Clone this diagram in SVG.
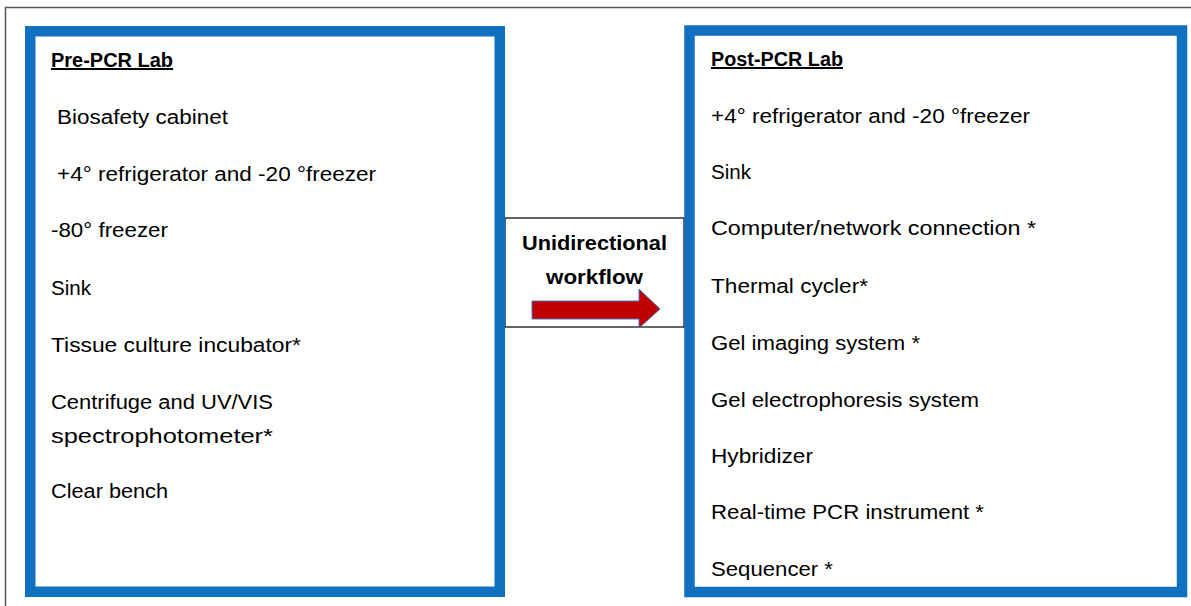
<svg xmlns="http://www.w3.org/2000/svg" width="1191" height="606" viewBox="0 0 1191 606">
<style>
.frame{fill:none;stroke:#555;stroke-width:1.5}
.lab{fill:#fff;stroke:#1170BF;stroke-width:10.5}
.mid{fill:#fff;stroke:#000;stroke-width:1.2}
text{font-family:"Liberation Sans",Arial,sans-serif;font-size:20px;fill:#000}
.h{font-weight:bold;text-decoration:underline}
.b{font-weight:bold}
.arrow{fill:#C00000;stroke:#4472C4;stroke-width:1}
</style>
<polyline class="frame" points="5.5,606 5.5,7.5 1191,7.5"/>
<g id="workflow">
<rect class="mid" x="505" y="218" width="179" height="109"/>
<text class="b" x="594.5" y="250" text-anchor="middle" textLength="145" lengthAdjust="spacingAndGlyphs">Unidirectional</text>
<text class="b" x="594.5" y="284" text-anchor="middle" textLength="97" lengthAdjust="spacingAndGlyphs">workflow</text>
</g>
<g id="pre-pcr">
<rect class="lab" x="30.25" y="31.25" width="469.5" height="560.5"/>
<text class="h" x="51" y="67" textLength="122" lengthAdjust="spacingAndGlyphs">Pre-PCR Lab</text>
<text x="57" y="124" textLength="171" lengthAdjust="spacingAndGlyphs">Biosafety cabinet</text>
<text x="57" y="181" textLength="319" lengthAdjust="spacingAndGlyphs">+4° refrigerator and -20 °freezer</text>
<text x="51" y="237" textLength="117" lengthAdjust="spacingAndGlyphs">-80° freezer</text>
<text x="51" y="295" textLength="40" lengthAdjust="spacingAndGlyphs">Sink</text>
<text x="51" y="352" textLength="250" lengthAdjust="spacingAndGlyphs">Tissue culture incubator*</text>
<text x="51" y="409" textLength="222" lengthAdjust="spacingAndGlyphs">Centrifuge and UV/VIS</text>
<text x="51" y="443" textLength="222" lengthAdjust="spacingAndGlyphs">spectrophotometer*</text>
<text x="51" y="498" textLength="117" lengthAdjust="spacingAndGlyphs">Clear bench</text>
</g>
<g id="post-pcr">
<rect class="lab" x="689.5" y="30.5" width="492.5" height="561.5"/>
<text class="h" x="711" y="66" textLength="132" lengthAdjust="spacingAndGlyphs">Post-PCR Lab</text>
<text x="711" y="123" textLength="319" lengthAdjust="spacingAndGlyphs">+4° refrigerator and -20 °freezer</text>
<text x="711" y="179" textLength="40" lengthAdjust="spacingAndGlyphs">Sink</text>
<text x="711" y="235" textLength="325" lengthAdjust="spacingAndGlyphs">Computer/network connection *</text>
<text x="711" y="293" textLength="157" lengthAdjust="spacingAndGlyphs">Thermal cycler*</text>
<text x="711" y="350" textLength="209" lengthAdjust="spacingAndGlyphs">Gel imaging system *</text>
<text x="711" y="407" textLength="268" lengthAdjust="spacingAndGlyphs">Gel electrophoresis system</text>
<text x="711" y="463" textLength="102" lengthAdjust="spacingAndGlyphs">Hybridizer</text>
<text x="711" y="519" textLength="273" lengthAdjust="spacingAndGlyphs">Real-time PCR instrument *</text>
<text x="711" y="576" textLength="122" lengthAdjust="spacingAndGlyphs">Sequencer *</text>
</g>
<g id="connectors">
<polygon class="arrow" points="532,301 639,301 639,289 660,309 639,328 639,319 532,319"/>
</g>
</svg>
